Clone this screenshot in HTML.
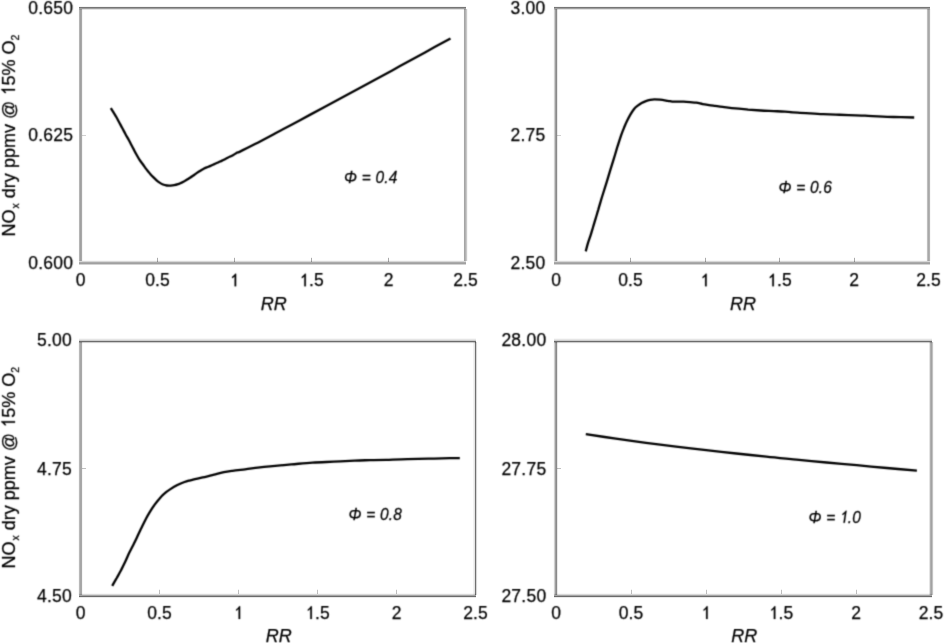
<!DOCTYPE html>
<html><head><meta charset="utf-8"><title>NOx vs RR</title>
<style>
html,body{margin:0;padding:0;background:#fff;}
body{width:944px;height:643px;overflow:hidden;}
svg{display:block;will-change:transform;}
.t{font-family:"Liberation Sans", sans-serif;font-size:17.5px;fill:#000;stroke:#000;stroke-width:0.25px;}
.yt{font-size:19.0px;}
.rr{font-size:18px;}
.yl{letter-spacing:0.25px;}
.p{font-family:"Liberation Sans", sans-serif;font-size:15.5px;fill:#000;letter-spacing:0.2px;stroke:#000;stroke-width:0.25px;}
.i{font-style:italic;}
.sub{font-size:11px;}
.h1{fill-opacity:0;stroke-opacity:0;}
.g1{fill:#000;stroke:#000;stroke-width:0.25px;}
</style></head>
<body>
<svg width="944" height="643" viewBox="0 0 944 643">
<filter id="b" x="-5%" y="-5%" width="110%" height="110%" color-interpolation-filters="sRGB"><feConvolveMatrix order="3" kernelMatrix="1 4 1 4 16 4 1 4 1" edgeMode="none" preserveAlpha="false"/></filter>
<g shape-rendering="crispEdges"><rect x="79" y="6" width="387" height="1" fill="#000" fill-opacity="0.039"/>
<rect x="79" y="7" width="387" height="1" fill="#000" fill-opacity="0.537"/>
<rect x="79" y="8" width="387" height="1" fill="#000" fill-opacity="0.380"/>
<rect x="79" y="9" width="387" height="1" fill="#000" fill-opacity="0.118"/>
<rect x="79" y="260" width="387" height="1" fill="#000" fill-opacity="0.027"/>
<rect x="79" y="261" width="387" height="1" fill="#000" fill-opacity="0.157"/>
<rect x="79" y="262" width="387" height="1" fill="#000" fill-opacity="0.333"/>
<rect x="79" y="263" width="387" height="1" fill="#000" fill-opacity="0.373"/>
<rect x="79" y="264" width="387" height="1" fill="#000" fill-opacity="0.176"/>
<rect x="78" y="9" width="1" height="252" fill="#000" fill-opacity="0.012"/>
<rect x="79" y="9" width="1" height="252" fill="#000" fill-opacity="0.294"/>
<rect x="80" y="9" width="1" height="252" fill="#000" fill-opacity="0.373"/>
<rect x="81" y="9" width="1" height="252" fill="#000" fill-opacity="0.341"/>
<rect x="82" y="9" width="1" height="252" fill="#000" fill-opacity="0.039"/>
<rect x="463" y="9" width="1" height="252" fill="#000" fill-opacity="0.012"/>
<rect x="464" y="9" width="1" height="252" fill="#000" fill-opacity="0.353"/>
<rect x="465" y="9" width="1" height="252" fill="#000" fill-opacity="0.302"/>
<rect x="466" y="9" width="1" height="252" fill="#000" fill-opacity="0.216"/>
<rect x="467" y="9" width="1" height="252" fill="#000" fill-opacity="0.035"/>
<rect x="157" y="258" width="1" height="4" fill="#000" fill-opacity="0.333"/>
<rect x="157" y="257" width="1" height="1" fill="#000" fill-opacity="0.06"/>
<rect x="234" y="258" width="1" height="4" fill="#000" fill-opacity="0.333"/>
<rect x="234" y="257" width="1" height="1" fill="#000" fill-opacity="0.06"/>
<rect x="311" y="258" width="1" height="4" fill="#000" fill-opacity="0.333"/>
<rect x="311" y="257" width="1" height="1" fill="#000" fill-opacity="0.06"/>
<rect x="388" y="258" width="1" height="4" fill="#000" fill-opacity="0.333"/>
<rect x="388" y="257" width="1" height="1" fill="#000" fill-opacity="0.06"/>
<rect x="82" y="135" width="4" height="1" fill="#000" fill-opacity="0.184"/>
<rect x="554" y="6" width="376" height="1" fill="#000" fill-opacity="0.039"/>
<rect x="554" y="7" width="376" height="1" fill="#000" fill-opacity="0.537"/>
<rect x="554" y="8" width="376" height="1" fill="#000" fill-opacity="0.380"/>
<rect x="554" y="9" width="376" height="1" fill="#000" fill-opacity="0.118"/>
<rect x="554" y="260" width="376" height="1" fill="#000" fill-opacity="0.027"/>
<rect x="554" y="261" width="376" height="1" fill="#000" fill-opacity="0.157"/>
<rect x="554" y="262" width="376" height="1" fill="#000" fill-opacity="0.333"/>
<rect x="554" y="263" width="376" height="1" fill="#000" fill-opacity="0.373"/>
<rect x="554" y="264" width="376" height="1" fill="#000" fill-opacity="0.176"/>
<rect x="553" y="9" width="1" height="252" fill="#000" fill-opacity="0.020"/>
<rect x="554" y="9" width="1" height="252" fill="#000" fill-opacity="0.184"/>
<rect x="555" y="9" width="1" height="252" fill="#000" fill-opacity="0.380"/>
<rect x="556" y="9" width="1" height="252" fill="#000" fill-opacity="0.459"/>
<rect x="557" y="9" width="1" height="252" fill="#000" fill-opacity="0.090"/>
<rect x="926" y="9" width="1" height="252" fill="#000" fill-opacity="0.020"/>
<rect x="927" y="9" width="1" height="252" fill="#000" fill-opacity="0.255"/>
<rect x="928" y="9" width="1" height="252" fill="#000" fill-opacity="0.341"/>
<rect x="929" y="9" width="1" height="252" fill="#000" fill-opacity="0.302"/>
<rect x="930" y="9" width="1" height="252" fill="#000" fill-opacity="0.027"/>
<rect x="630" y="258" width="1" height="4" fill="#000" fill-opacity="0.333"/>
<rect x="630" y="257" width="1" height="1" fill="#000" fill-opacity="0.06"/>
<rect x="705" y="258" width="1" height="4" fill="#000" fill-opacity="0.333"/>
<rect x="705" y="257" width="1" height="1" fill="#000" fill-opacity="0.06"/>
<rect x="779" y="258" width="1" height="4" fill="#000" fill-opacity="0.333"/>
<rect x="779" y="257" width="1" height="1" fill="#000" fill-opacity="0.06"/>
<rect x="854" y="258" width="1" height="4" fill="#000" fill-opacity="0.333"/>
<rect x="854" y="257" width="1" height="1" fill="#000" fill-opacity="0.06"/>
<rect x="557" y="135" width="4" height="1" fill="#000" fill-opacity="0.184"/>
<rect x="79" y="338" width="397" height="1" fill="#000" fill-opacity="0.027"/>
<rect x="79" y="339" width="397" height="1" fill="#000" fill-opacity="0.098"/>
<rect x="79" y="340" width="397" height="1" fill="#000" fill-opacity="0.196"/>
<rect x="79" y="341" width="397" height="1" fill="#000" fill-opacity="0.576"/>
<rect x="79" y="342" width="397" height="1" fill="#000" fill-opacity="0.196"/>
<rect x="79" y="343" width="397" height="1" fill="#000" fill-opacity="0.020"/>
<rect x="79" y="593" width="397" height="1" fill="#000" fill-opacity="0.027"/>
<rect x="79" y="594" width="397" height="1" fill="#000" fill-opacity="0.153"/>
<rect x="79" y="595" width="397" height="1" fill="#000" fill-opacity="0.353"/>
<rect x="79" y="596" width="397" height="1" fill="#000" fill-opacity="0.584"/>
<rect x="79" y="597" width="397" height="1" fill="#000" fill-opacity="0.090"/>
<rect x="78" y="342" width="1" height="253" fill="#000" fill-opacity="0.027"/>
<rect x="79" y="342" width="1" height="253" fill="#000" fill-opacity="0.278"/>
<rect x="80" y="342" width="1" height="253" fill="#000" fill-opacity="0.349"/>
<rect x="81" y="342" width="1" height="253" fill="#000" fill-opacity="0.341"/>
<rect x="82" y="342" width="1" height="253" fill="#000" fill-opacity="0.035"/>
<rect x="473" y="342" width="1" height="253" fill="#000" fill-opacity="0.051"/>
<rect x="474" y="342" width="1" height="253" fill="#000" fill-opacity="0.098"/>
<rect x="475" y="342" width="1" height="253" fill="#000" fill-opacity="0.561"/>
<rect x="476" y="342" width="1" height="253" fill="#000" fill-opacity="0.157"/>
<rect x="477" y="342" width="1" height="253" fill="#000" fill-opacity="0.012"/>
<rect x="159" y="590" width="1" height="4" fill="#000" fill-opacity="0.255"/>
<rect x="159" y="589" width="1" height="1" fill="#000" fill-opacity="0.06"/>
<rect x="238" y="590" width="1" height="4" fill="#000" fill-opacity="0.255"/>
<rect x="238" y="589" width="1" height="1" fill="#000" fill-opacity="0.06"/>
<rect x="317" y="590" width="1" height="4" fill="#000" fill-opacity="0.255"/>
<rect x="317" y="589" width="1" height="1" fill="#000" fill-opacity="0.06"/>
<rect x="396" y="590" width="1" height="4" fill="#000" fill-opacity="0.255"/>
<rect x="396" y="589" width="1" height="1" fill="#000" fill-opacity="0.06"/>
<rect x="82" y="468" width="4" height="1" fill="#000" fill-opacity="0.247"/>
<rect x="554" y="338" width="378" height="1" fill="#000" fill-opacity="0.027"/>
<rect x="554" y="339" width="378" height="1" fill="#000" fill-opacity="0.098"/>
<rect x="554" y="340" width="378" height="1" fill="#000" fill-opacity="0.196"/>
<rect x="554" y="341" width="378" height="1" fill="#000" fill-opacity="0.576"/>
<rect x="554" y="342" width="378" height="1" fill="#000" fill-opacity="0.196"/>
<rect x="554" y="343" width="378" height="1" fill="#000" fill-opacity="0.020"/>
<rect x="554" y="593" width="378" height="1" fill="#000" fill-opacity="0.027"/>
<rect x="554" y="594" width="378" height="1" fill="#000" fill-opacity="0.153"/>
<rect x="554" y="595" width="378" height="1" fill="#000" fill-opacity="0.353"/>
<rect x="554" y="596" width="378" height="1" fill="#000" fill-opacity="0.584"/>
<rect x="554" y="597" width="378" height="1" fill="#000" fill-opacity="0.090"/>
<rect x="553" y="342" width="1" height="253" fill="#000" fill-opacity="0.020"/>
<rect x="554" y="342" width="1" height="253" fill="#000" fill-opacity="0.184"/>
<rect x="555" y="342" width="1" height="253" fill="#000" fill-opacity="0.380"/>
<rect x="556" y="342" width="1" height="253" fill="#000" fill-opacity="0.459"/>
<rect x="557" y="342" width="1" height="253" fill="#000" fill-opacity="0.090"/>
<rect x="929" y="342" width="1" height="253" fill="#000" fill-opacity="0.106"/>
<rect x="930" y="342" width="1" height="253" fill="#000" fill-opacity="0.310"/>
<rect x="931" y="342" width="1" height="253" fill="#000" fill-opacity="0.365"/>
<rect x="932" y="342" width="1" height="253" fill="#000" fill-opacity="0.239"/>
<rect x="933" y="342" width="1" height="253" fill="#000" fill-opacity="0.027"/>
<rect x="631" y="590" width="1" height="4" fill="#000" fill-opacity="0.255"/>
<rect x="631" y="589" width="1" height="1" fill="#000" fill-opacity="0.06"/>
<rect x="706" y="590" width="1" height="4" fill="#000" fill-opacity="0.255"/>
<rect x="706" y="589" width="1" height="1" fill="#000" fill-opacity="0.06"/>
<rect x="781" y="590" width="1" height="4" fill="#000" fill-opacity="0.255"/>
<rect x="781" y="589" width="1" height="1" fill="#000" fill-opacity="0.06"/>
<rect x="856" y="590" width="1" height="4" fill="#000" fill-opacity="0.255"/>
<rect x="856" y="589" width="1" height="1" fill="#000" fill-opacity="0.06"/>
<rect x="557" y="468" width="4" height="1" fill="#000" fill-opacity="0.247"/></g>
<g filter="url(#b)"><text x="73.25" y="14.2" text-anchor="end" class="t yl">0.650</text>
<text x="73.25" y="141.45" text-anchor="end" class="t yl">0.625</text>
<text x="73.25" y="269.0" text-anchor="end" class="t yl">0.600</text>
<text x="80.5" y="286.3" text-anchor="middle" class="t">0</text>
<text x="157.5" y="286.3" text-anchor="middle" class="t">0.5</text>
<text x="234.5" y="286.3" text-anchor="middle" class="t has1"><tspan class="h1">1</tspan></text>
<text x="311.5" y="286.3" text-anchor="middle" class="t has1"><tspan class="h1">1</tspan>.5</text>
<text x="388.5" y="286.3" text-anchor="middle" class="t">2</text>
<text x="465.5" y="286.3" text-anchor="middle" class="t">2.5</text>
<text x="273.8" y="309.6" text-anchor="middle" class="t i rr">RR</text>
<text transform="translate(344,183) scale(1,1.08)" x="0" y="0" class="p i">&#934; = 0.4</text>
<path d="M110.8,108.1 C111.2,108.8 112.6,110.9 113.5,112.4 C114.4,113.9 115.4,115.4 116.3,117.0 C117.2,118.6 118.0,120.2 119.0,122.0 C120.0,123.8 121.0,125.8 122.1,127.8 C123.2,129.8 124.3,132.0 125.4,134.0 C126.5,136.0 127.8,138.2 128.8,140.0 C129.8,141.8 130.5,143.3 131.4,145.0 C132.3,146.7 133.1,148.2 134.0,149.9 C134.9,151.7 136.0,153.7 137.0,155.5 C138.0,157.3 138.9,158.9 140.0,160.5 C141.1,162.1 142.2,163.5 143.3,165.0 C144.4,166.5 145.5,168.1 146.7,169.6 C147.8,171.1 149.1,172.6 150.2,173.9 C151.3,175.2 152.4,176.3 153.5,177.4 C154.6,178.5 155.6,179.4 156.6,180.3 C157.6,181.2 158.5,181.9 159.6,182.6 C160.7,183.3 161.8,184.0 163.0,184.5 C164.2,185.0 165.6,185.3 166.8,185.5 C168.1,185.7 169.3,185.7 170.5,185.6 C171.7,185.5 172.9,185.4 174.2,185.2 C175.4,185.0 176.8,184.6 178.0,184.2 C179.2,183.8 180.5,183.1 181.7,182.6 C182.9,182.1 183.9,181.6 185.0,180.9 C186.1,180.2 187.3,179.5 188.5,178.7 C189.7,177.9 190.9,177.2 192.2,176.3 C193.4,175.5 194.8,174.4 196.0,173.6 C197.2,172.8 198.3,171.9 199.5,171.2 C200.7,170.5 201.7,169.8 202.9,169.2 C204.1,168.6 205.4,167.9 206.7,167.4 C208.0,166.9 209.2,166.5 210.5,165.9 C211.8,165.3 213.0,164.7 214.3,164.1 C215.6,163.5 216.8,163.1 218.1,162.5 C219.4,161.9 220.7,161.2 222.0,160.6 C223.3,160.0 224.5,159.3 225.8,158.7 C227.1,158.1 228.3,157.4 229.6,156.8 C230.9,156.2 232.1,155.6 233.4,154.9 C234.7,154.2 236.1,153.2 237.2,152.6 C238.3,152.0 237.0,153.0 240.0,151.6 C243.0,150.2 249.2,147.1 255.0,144.1 C260.8,141.1 267.5,137.5 275.0,133.5 C282.5,129.5 291.7,124.6 300.0,120.2 C308.3,115.7 316.7,111.2 325.0,106.8 C333.3,102.3 341.7,97.8 350.0,93.3 C358.3,88.8 366.7,84.3 375.0,79.7 C383.3,75.2 391.7,70.7 400.0,66.1 C408.3,61.6 416.6,57.0 425.0,52.4 C433.4,47.8 446.2,40.7 450.5,38.4" fill="none" stroke="#000" stroke-width="2.3" stroke-linejoin="round" stroke-linecap="butt"/>
<text x="545.55" y="14.25" text-anchor="end" class="t yl">3.00</text>
<text x="545.55" y="141.25" text-anchor="end" class="t yl">2.75</text>
<text x="545.55" y="269.3" text-anchor="end" class="t yl">2.50</text>
<text x="556.0" y="286.3" text-anchor="middle" class="t">0</text>
<text x="630.5" y="286.3" text-anchor="middle" class="t">0.5</text>
<text x="705.0" y="286.3" text-anchor="middle" class="t has1"><tspan class="h1">1</tspan></text>
<text x="779.5" y="286.3" text-anchor="middle" class="t has1"><tspan class="h1">1</tspan>.5</text>
<text x="854.0" y="286.3" text-anchor="middle" class="t">2</text>
<text x="928.5" y="286.3" text-anchor="middle" class="t">2.5</text>
<text x="743.0" y="309.6" text-anchor="middle" class="t i rr">RR</text>
<text transform="translate(778.6,193) scale(1,1.08)" x="0" y="0" class="p i">&#934; = 0.6</text>
<path d="M585.7,251.4 C586.1,250.1 587.0,246.2 587.8,243.6 C588.6,241.0 589.6,238.5 590.5,235.7 C591.4,232.9 592.2,229.9 593.1,227.0 C594.0,224.1 594.8,221.2 595.7,218.3 C596.6,215.4 597.4,212.5 598.3,209.6 C599.1,206.7 600.0,203.7 600.8,201.0 C601.6,198.3 602.1,196.6 603.1,193.5 C604.1,190.4 605.4,186.3 606.6,182.4 C607.8,178.5 609.0,174.2 610.2,170.3 C611.4,166.4 612.6,162.7 613.7,159.2 C614.8,155.7 616.0,151.5 616.7,149.1 C617.4,146.7 617.4,147.0 618.1,144.7 C618.8,142.4 620.1,138.2 621.1,135.3 C622.1,132.5 623.1,130.0 624.1,127.6 C625.1,125.2 626.0,123.0 627.1,120.8 C628.2,118.6 629.4,116.3 630.5,114.4 C631.6,112.5 632.8,110.6 633.9,109.2 C635.0,107.8 636.1,106.9 637.4,105.9 C638.7,104.9 640.2,103.8 641.6,103.0 C643.0,102.2 644.5,101.6 645.9,101.1 C647.3,100.6 648.8,100.2 650.2,99.9 C651.6,99.6 652.8,99.4 654.4,99.4 C656.0,99.4 657.8,99.5 660.0,99.7 C662.2,99.9 665.7,100.5 667.7,100.8 C669.7,101.1 670.6,101.5 672.2,101.6 C673.8,101.7 675.4,101.6 677.3,101.6 C679.2,101.6 681.5,101.5 683.6,101.6 C685.7,101.7 687.9,101.9 690.0,102.1 C692.1,102.3 694.2,102.4 696.3,102.7 C698.4,103.0 700.6,103.7 702.7,104.1 C704.8,104.5 707.0,104.8 709.0,105.1 C711.0,105.4 712.7,105.6 715.0,105.9 C717.3,106.2 719.3,106.5 722.7,106.9 C726.1,107.3 731.2,108.0 735.4,108.4 C739.6,108.9 743.9,109.2 748.1,109.6 C752.3,109.9 756.5,110.2 760.8,110.5 C765.0,110.8 769.6,110.9 773.6,111.1 C777.6,111.3 781.0,111.4 785.0,111.7 C789.0,112.0 793.5,112.4 797.7,112.7 C801.9,113.0 806.2,113.2 810.4,113.4 C814.6,113.7 818.9,114.0 823.1,114.2 C827.3,114.4 831.5,114.4 835.8,114.6 C840.0,114.8 843.7,114.9 848.6,115.1 C853.5,115.3 861.0,115.5 865.0,115.7 C869.0,115.9 867.6,115.9 872.4,116.1 C877.2,116.3 886.6,116.8 893.6,117.0 C900.6,117.2 910.8,117.4 914.2,117.5" fill="none" stroke="#000" stroke-width="2.3" stroke-linejoin="round" stroke-linecap="butt"/>
<text x="72.05" y="346.3" text-anchor="end" class="t yl">5.00</text>
<text x="72.05" y="475.05" text-anchor="end" class="t yl">4.75</text>
<text x="72.05" y="601.9" text-anchor="end" class="t yl">4.50</text>
<text x="80.5" y="618.9" text-anchor="middle" class="t">0</text>
<text x="159.5" y="618.9" text-anchor="middle" class="t">0.5</text>
<text x="238.5" y="618.9" text-anchor="middle" class="t has1"><tspan class="h1">1</tspan></text>
<text x="317.5" y="618.9" text-anchor="middle" class="t has1"><tspan class="h1">1</tspan>.5</text>
<text x="396.5" y="618.9" text-anchor="middle" class="t">2</text>
<text x="475.5" y="618.9" text-anchor="middle" class="t">2.5</text>
<text x="278.8" y="642.4" text-anchor="middle" class="t i rr">RR</text>
<text transform="translate(348.6,520.3) scale(1,1.08)" x="0" y="0" class="p i">&#934; = 0.8</text>
<path d="M112.2,585.9 C112.9,584.6 115.1,580.8 116.6,578.2 C118.0,575.6 119.5,573.2 120.9,570.5 C122.3,567.8 123.8,564.7 125.2,561.8 C126.6,558.9 127.8,555.8 129.1,553.1 C130.4,550.4 131.7,548.0 133.0,545.4 C134.3,542.8 135.6,540.3 136.8,537.7 C138.0,535.1 139.5,531.9 140.4,530.0 C141.3,528.1 141.2,528.5 142.1,526.6 C143.0,524.7 144.8,521.0 146.1,518.5 C147.4,516.0 148.8,513.7 150.2,511.4 C151.6,509.1 153.2,506.7 154.7,504.6 C156.2,502.5 157.6,500.7 159.2,498.9 C160.8,497.0 162.4,495.2 164.3,493.6 C166.2,491.9 168.2,490.5 170.4,489.1 C172.6,487.7 175.1,486.2 177.4,485.0 C179.8,483.8 182.3,482.8 184.5,482.0 C186.7,481.2 187.3,481.1 190.3,480.3 C193.3,479.5 198.5,478.4 202.7,477.4 C206.9,476.4 211.9,475.3 215.4,474.4 C218.9,473.5 221.1,472.8 223.9,472.2 C226.7,471.6 228.9,471.3 232.4,470.8 C235.9,470.3 240.9,469.8 245.1,469.3 C249.3,468.8 253.7,468.1 257.8,467.6 C261.9,467.1 264.4,466.8 270.0,466.3 C275.6,465.8 284.1,465.0 291.2,464.4 C298.3,463.8 305.3,463.1 312.4,462.6 C319.5,462.2 326.6,462.0 333.6,461.7 C340.7,461.4 348.6,461.0 354.7,460.7 C360.8,460.4 364.8,460.3 370.0,460.1 C375.2,460.0 380.0,459.9 386.2,459.8 C392.4,459.6 400.3,459.2 407.4,459.1 C414.5,458.9 421.6,458.8 428.6,458.6 C435.7,458.5 444.5,458.2 449.7,458.1 C454.9,458.1 458.1,458.1 459.8,458.1" fill="none" stroke="#000" stroke-width="2.3" stroke-linejoin="round" stroke-linecap="butt"/>
<text x="546.45" y="346.0" text-anchor="end" class="t yl">28.00</text>
<text x="546.45" y="474.85" text-anchor="end" class="t yl">27.75</text>
<text x="546.45" y="601.85" text-anchor="end" class="t yl">27.50</text>
<text x="556.0" y="618.9" text-anchor="middle" class="t">0</text>
<text x="631.0" y="618.9" text-anchor="middle" class="t">0.5</text>
<text x="706.0" y="618.9" text-anchor="middle" class="t has1"><tspan class="h1">1</tspan></text>
<text x="781.0" y="618.9" text-anchor="middle" class="t has1"><tspan class="h1">1</tspan>.5</text>
<text x="856.0" y="618.9" text-anchor="middle" class="t">2</text>
<text x="931.0" y="618.9" text-anchor="middle" class="t">2.5</text>
<text x="744.3" y="642.4" text-anchor="middle" class="t i rr">RR</text>
<text transform="translate(808.6,522.8) scale(1,1.08)" x="0" y="0" class="p i has1">&#934; = <tspan class="h1" dx="-1">1</tspan>.0</text>
<path d="M585.8,434.2 C590.8,434.9 605.9,437.2 615.9,438.7 C625.9,440.1 636.0,441.5 646.0,442.8 C656.0,444.1 666.1,445.4 676.1,446.6 C686.1,447.9 696.2,449.1 706.2,450.2 C716.2,451.3 726.3,452.4 736.3,453.5 C746.3,454.6 756.4,455.6 766.4,456.6 C776.4,457.7 786.5,458.6 796.5,459.6 C806.5,460.6 816.6,461.5 826.6,462.5 C836.6,463.4 846.7,464.3 856.7,465.2 C866.7,466.2 876.8,467.1 886.8,468.0 C896.8,468.9 911.9,470.2 916.9,470.7" fill="none" stroke="#000" stroke-width="2.3" stroke-linejoin="round" stroke-linecap="butt"/>
<text transform="translate(15,236.4) rotate(-90) scale(0.95,1)" class="t yt has1">NO<tspan class="sub" dx="1" dy="3.5">x</tspan><tspan dy="-3.5"> dry ppmv @ <tspan class="h1">1</tspan>5% O</tspan><tspan class="sub" dy="3.5">2</tspan></text>
<text transform="translate(15,568.6) rotate(-90) scale(0.95,1)" class="t yt has1">NO<tspan class="sub" dx="1" dy="3.5">x</tspan><tspan dy="-3.5"> dry ppmv @ <tspan class="h1">1</tspan>5% O</tspan><tspan class="sub" dy="3.5">2</tspan></text>
<path class="g1" transform=" translate(229.63,286.30) scale(0.008545,-0.008545)" style="stroke-width:29.3" d="M763 0H583V1147Q518 1085 430 1030Q340 975 290 955V1110Q400 1180 500 1280Q599 1377 646 1472H763Z"/>
<path class="g1" transform=" translate(299.33,286.30) scale(0.008545,-0.008545)" style="stroke-width:29.3" d="M763 0H583V1147Q518 1085 430 1030Q340 975 290 955V1110Q400 1180 500 1280Q599 1377 646 1472H763Z"/>
<path class="g1" transform=" translate(700.13,286.30) scale(0.008545,-0.008545)" style="stroke-width:29.3" d="M763 0H583V1147Q518 1085 430 1030Q340 975 290 955V1110Q400 1180 500 1280Q599 1377 646 1472H763Z"/>
<path class="g1" transform=" translate(767.33,286.30) scale(0.008545,-0.008545)" style="stroke-width:29.3" d="M763 0H583V1147Q518 1085 430 1030Q340 975 290 955V1110Q400 1180 500 1280Q599 1377 646 1472H763Z"/>
<path class="g1" transform=" translate(233.63,618.90) scale(0.008545,-0.008545)" style="stroke-width:29.3" d="M763 0H583V1147Q518 1085 430 1030Q340 975 290 955V1110Q400 1180 500 1280Q599 1377 646 1472H763Z"/>
<path class="g1" transform=" translate(305.33,618.90) scale(0.008545,-0.008545)" style="stroke-width:29.3" d="M763 0H583V1147Q518 1085 430 1030Q340 975 290 955V1110Q400 1180 500 1280Q599 1377 646 1472H763Z"/>
<path class="g1" transform=" translate(701.13,618.90) scale(0.008545,-0.008545)" style="stroke-width:29.3" d="M763 0H583V1147Q518 1085 430 1030Q340 975 290 955V1110Q400 1180 500 1280Q599 1377 646 1472H763Z"/>
<path class="g1" transform=" translate(768.83,618.90) scale(0.008545,-0.008545)" style="stroke-width:29.3" d="M763 0H583V1147Q518 1085 430 1030Q340 975 290 955V1110Q400 1180 500 1280Q599 1377 646 1472H763Z"/>
<path class="g1" transform="translate(808.6,522.8) scale(1,1.08) translate(30.44,0.00) scale(0.007568,-0.007568) matrix(1,0,0.16,1,0,0)" style="stroke-width:33.0" d="M763 0H583V1147Q518 1085 430 1030Q340 975 290 955V1110Q400 1180 500 1280Q599 1377 646 1472H763Z"/>
<path class="g1" transform="translate(15,236.4) rotate(-90) scale(0.95,1) translate(148.15,0.00) scale(0.009277,-0.009277)" style="stroke-width:26.9" d="M763 0H583V1147Q518 1085 430 1030Q340 975 290 955V1110Q400 1180 500 1280Q599 1377 646 1472H763Z"/>
<path class="g1" transform="translate(15,568.6) rotate(-90) scale(0.95,1) translate(148.15,0.00) scale(0.009277,-0.009277)" style="stroke-width:26.9" d="M763 0H583V1147Q518 1085 430 1030Q340 975 290 955V1110Q400 1180 500 1280Q599 1377 646 1472H763Z"/></g>
</svg>
</body></html>
